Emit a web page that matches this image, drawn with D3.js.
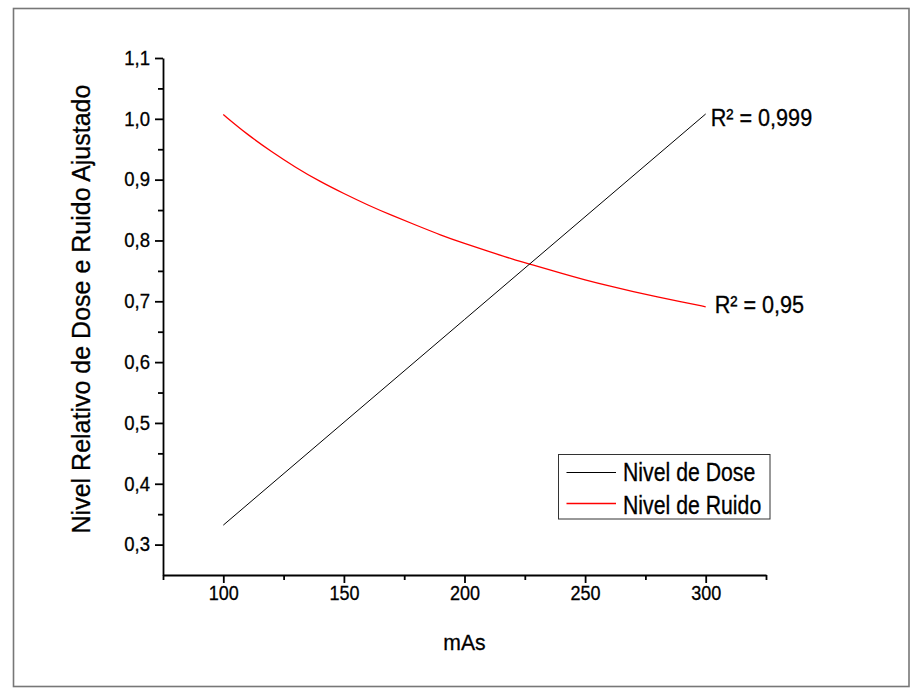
<!DOCTYPE html>
<html>
<head>
<meta charset="utf-8">
<script src="https://cdn.jsdelivr.net/npm/d3@7"></script>
<style>
  html, body { margin: 0; padding: 0; background: #fff; }
  svg { display: block; font-family: "Liberation Sans", Arial, sans-serif; }
  svg text { stroke: #000; stroke-width: 0.3px; }
</style>
</head>
<body>
<svg id="chart" width="921" height="696"></svg>
<script>
// ---- data ----
const mAs = [100, 110, 120, 130, 140, 150, 160, 170, 180, 190, 200, 210, 220, 230, 240, 250, 260, 270, 280, 290, 300];
const doseX = [100, 200, 300];
const doseValues = [0.332, 0.670, 1.008];
const noiseValues = [1.007, 0.974, 0.946, 0.920, 0.897, 0.877, 0.858, 0.841, 0.825, 0.809, 0.795, 0.782, 0.769, 0.758, 0.746, 0.735, 0.725, 0.716, 0.707, 0.699, 0.691];
const xTicks = [100, 150, 200, 250, 300];
const xMinorTicks = [75, 125, 175, 225, 275, 325];
const yTicks = [0.3, 0.4, 0.5, 0.6, 0.7, 0.8, 0.9, 1.0, 1.1];
const yMinorTicks = [0.35, 0.45, 0.55, 0.65, 0.75, 0.85, 0.95, 1.05];
const seriesNames = ["Nivel de Dose", "Nivel de Ruido"];
const seriesColors = ["#000000", "#ff0000"];
const r2Labels = ["R² = 0,999", "R² = 0,95"];
const xTitle = "mAs";
const yTitle = "Nivel Relativo de Dose e Ruido Ajustado";

const svg = d3.select("#chart");

// condense text horizontally (reference glyphs are narrow)
function condense(sel, factor) {
  sel.each(function () {
    const len = this.getComputedTextLength();
    d3.select(this).attr("textLength", len * factor).attr("lengthAdjust", "spacingAndGlyphs");
  });
}

// outer frame
svg.append("rect").attr("x", 13.5).attr("y", 8.5).attr("width", 895.5).attr("height", 678)
  .attr("fill", "none").attr("stroke", "#777").attr("stroke-width", 1.6);

const x = d3.scaleLinear().domain([75, 325]).range([163, 766]);
const y = d3.scaleLinear().domain([0.25, 1.1]).range([575, 58]);
const fmt = d => d3.format(".1f")(d).replace(".", ",");

// x axis
const gx = svg.append("g").attr("transform", `translate(0,${y(0.25)})`);
gx.call(d3.axisBottom(x).tickValues(xTicks).tickSize(8).tickSizeOuter(0).tickPadding(3))
  .call(g => g.selectAll("text").attr("font-size", 20).attr("fill", "#000").attr("font-family", "Liberation Sans, Arial, sans-serif"));
condense(gx.selectAll("text"), 0.9);
const gxm = svg.append("g").attr("transform", `translate(0,${y(0.25)})`);
gxm.call(d3.axisBottom(x).tickValues(xMinorTicks).tickSize(5).tickFormat(""))
  .call(g => g.select(".domain").remove());

// y axis
const gy = svg.append("g").attr("transform", `translate(${x(75)},0)`);
gy.call(d3.axisLeft(y).tickValues(yTicks).tickSize(8).tickSizeOuter(0).tickPadding(5).tickFormat(fmt))
  .call(g => g.selectAll("text").attr("font-size", 19.5).attr("fill", "#000").attr("font-family", "Liberation Sans, Arial, sans-serif"));
condense(gy.selectAll("text"), 0.95);
const gym = svg.append("g").attr("transform", `translate(${x(75)},0)`);
gym.call(d3.axisLeft(y).tickValues(yMinorTicks).tickSize(5).tickFormat(""))
  .call(g => g.select(".domain").remove());

svg.selectAll(".domain, .tick line").attr("stroke", "#000").attr("stroke-width", 1.8);

// lines
const doseData = doseX.map((d, i) => [d, doseValues[i]]);
const noiseData = mAs.map((d, i) => [d, noiseValues[i]]);
const lineGen = d3.line().x(d => x(d[0])).y(d => y(d[1]));
const curveGen = d3.line().x(d => x(d[0])).y(d => y(d[1])).curve(d3.curveBasis);

svg.append("path").datum(noiseData).attr("d", curveGen)
  .attr("fill", "none").attr("stroke", seriesColors[1]).attr("stroke-width", 1.3);
svg.append("path").datum(doseData).attr("d", lineGen)
  .attr("fill", "none").attr("stroke", seriesColors[0]).attr("stroke-width", 1);

// R² labels
const r1 = svg.append("text").attr("x", x(300) + 5).attr("y", y(doseValues[2]) + 12)
  .attr("font-size", 24).attr("fill", "#000").text(r2Labels[0]);
const r2 = svg.append("text").attr("x", x(300) + 9).attr("y", y(noiseValues[noiseValues.length - 1]) + 6)
  .attr("font-size", 24).attr("fill", "#000").text(r2Labels[1]);
condense(r1, 0.9);
condense(r2, 0.9);

// legend
const lg = svg.append("g");
lg.append("rect").attr("x", 558.5).attr("y", 454.5).attr("width", 211.5).attr("height", 64.5)
  .attr("fill", "#fff").attr("stroke", "#333").attr("stroke-width", 1);
seriesNames.forEach((name, i) => {
  const cy = 472.5 + i * 31;
  lg.append("line").attr("x1", 566.5).attr("x2", 616).attr("y1", cy).attr("y2", cy)
    .attr("stroke", seriesColors[i]).attr("stroke-width", i === 0 ? 1 : 1.3);
  const t = lg.append("text").attr("x", 623).attr("y", cy + 8.5 + i * 2).attr("font-size", 25)
    .attr("fill", "#000").text(name);
  condense(t, 0.85);
});

// axis titles
const xt = svg.append("text").attr("x", 464.5).attr("y", 649.5).attr("text-anchor", "middle")
  .attr("font-size", 22.5).attr("fill", "#000").text(xTitle);
condense(xt, 0.94);
svg.append("text").attr("transform", "translate(90,309) rotate(-90)").attr("text-anchor", "middle")
  .attr("font-size", 25).attr("fill", "#000").text(yTitle);
</script>
</body>
</html>
